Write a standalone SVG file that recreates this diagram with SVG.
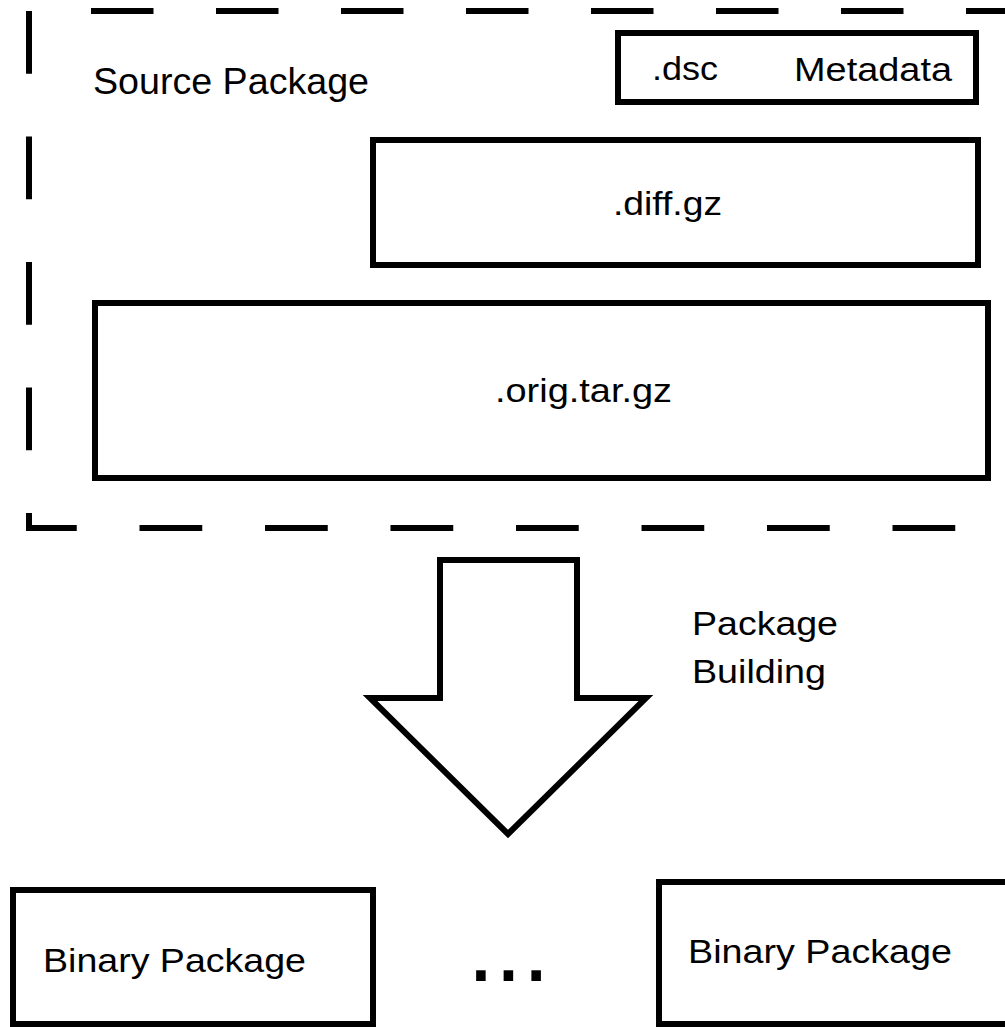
<svg xmlns="http://www.w3.org/2000/svg" width="1005" height="1027" viewBox="0 0 1005 1027">
<style>
.box{fill:#fff;stroke:#000;stroke-width:6;stroke-linejoin:miter}
.dash{fill:none;stroke:#000;stroke-width:6}
text{font-family:"Liberation Sans",Arial,Helvetica,sans-serif;fill:#000}
.t{font-size:34px}
</style>
<rect width="1005" height="1027" fill="#fff"/>
<g id="source-package">
<path class="dash" d="M29,11 L29,528 L1030,528" stroke-dasharray="62.75 62.75"/>
<path class="dash" d="M29,11 L1030,11" stroke-dasharray="62.5 62.5" stroke-dashoffset="63"/>
<text x="93" y="94" style="font-size:36px" textLength="276" lengthAdjust="spacingAndGlyphs">Source Package</text>
</g>
<g id="dsc">
<rect class="box" x="618" y="33" width="358" height="69"/>
<text class="t" x="652" y="80" textLength="66" lengthAdjust="spacingAndGlyphs">.dsc</text>
<text class="t" x="794" y="81" textLength="158" lengthAdjust="spacingAndGlyphs">Metadata</text>
</g>
<g id="diff">
<rect class="box" x="373" y="140" width="605" height="125"/>
<text class="t" x="613" y="215" textLength="109" lengthAdjust="spacingAndGlyphs">.diff.gz</text>
</g>
<g id="orig">
<rect class="box" x="95" y="303" width="893" height="175"/>
<text class="t" x="495" y="402" textLength="177" lengthAdjust="spacingAndGlyphs">.orig.tar.gz</text>
</g>
<g id="connectors">
<polygon class="box" points="440,560 577,560 577,698 646,698 508,834 370,698 440,698"/>
<text class="t" x="692" y="635" textLength="146" lengthAdjust="spacingAndGlyphs">Package</text>
<text class="t" x="692" y="683" textLength="134" lengthAdjust="spacingAndGlyphs">Building</text>
</g>
<g id="binary1">
<rect class="box" x="13" y="890" width="360" height="134"/>
<text class="t" x="43" y="972" textLength="263" lengthAdjust="spacingAndGlyphs">Binary Package</text>
</g>
<g id="ellipsis">
<text x="467" y="981" style="font-size:100px" textLength="83" lengthAdjust="spacing">...</text>
</g>
<g id="binary2">
<rect class="box" x="659" y="882" width="360" height="142"/>
<text class="t" x="688" y="963" textLength="264" lengthAdjust="spacingAndGlyphs">Binary Package</text>
</g>
</svg>
